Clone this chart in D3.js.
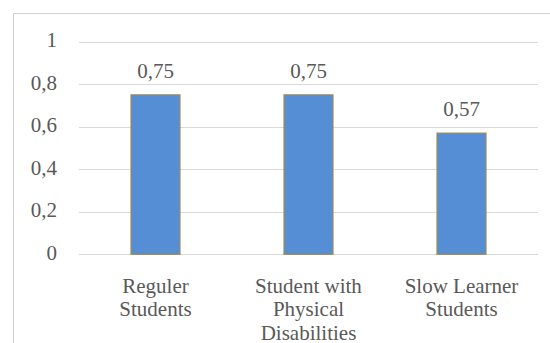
<!DOCTYPE html>
<html><head><meta charset="utf-8">
<script src="https://cdn.jsdelivr.net/npm/d3@7"></script>
</head><body style="margin:0">
<svg id="c" width="550" height="343" font-family="Liberation Serif" style="font-family:'Liberation Serif'"></svg>
<script>
const categories = [["Reguler","Students"],["Student with","Physical","Disabilities"],["Slow Learner","Students"]];
const values = [0.75, 0.75, 0.57];
const valueLabels = ["0,75","0,75","0,57"];
const yTicks = [0, 0.2, 0.4, 0.6, 0.8, 1];
const yTickLabels = ["0","0,2","0,4","0,6","0,8","1"];

(function(){
const svg = d3.select("#c");
const W = 550, H = 343;
const fs = 21, tc = "#595959";
svg.append("rect").attr("width",W).attr("height",H).attr("fill","#fff");
svg.append("rect").attr("x",13.5).attr("y",13.5).attr("width",W).attr("height",H).attr("fill","none").attr("stroke","#d0d0d0");

const pL = 79, pR = 538, pT = 41.7, pB = 254.3;
const y = d3.scaleLinear().domain([0,1]).range([pB, pT]);
const x = d3.scaleBand().domain(d3.range(categories.length)).range([pL,pR]).paddingInner(0.68).paddingOuter(0.34);

const g = svg.append("g").attr("font-family","Liberation Serif").attr("font-size",fs);
g.selectAll("line.grid").data(yTicks).join("line")
  .attr("x1",pL).attr("x2",pR)
  .attr("y1",d=>Math.round(y(d))+0.5).attr("y2",d=>Math.round(y(d))+0.5)
  .attr("stroke","#d9d9d9").attr("stroke-width",1);

function stext(sel, xx, yy, anchor){
  return sel.attr("x",xx).attr("y",yy)
    .attr("text-anchor",anchor)
    .attr("font-family","Liberation Serif")
    .attr("font-size",fs)
    .style("font-family","Liberation Serif")
    .style("font-size",fs+"px").attr("fill",tc);
}

g.selectAll("text.yt").data(yTicks).join("text").each(function(d,i){
  stext(d3.select(this), 57, y(d)+5.5, "end").text(yTickLabels[i]);
});

g.selectAll("rect.bar").data(values).join("rect")
  .attr("x",(d,i)=>x(i)).attr("width",x.bandwidth())
  .attr("y",d=>y(d)).attr("height",d=>y(0)-y(d))
  .attr("fill","#558ed5").attr("stroke","#9c8c55").attr("stroke-width",1.2);

g.selectAll("text.vl").data(values).join("text").each(function(d,i){
  stext(d3.select(this), x(i)+x.bandwidth()/2, y(d)-17, "middle").text(valueLabels[i]);
});

categories.forEach((lines,i)=>{
  lines.forEach((ln,j)=>{
    stext(g.append("text"), x(i)+x.bandwidth()/2, 292.5 + j*23.5, "middle").text(ln);
  });
});
})();
</script>
</body></html>
